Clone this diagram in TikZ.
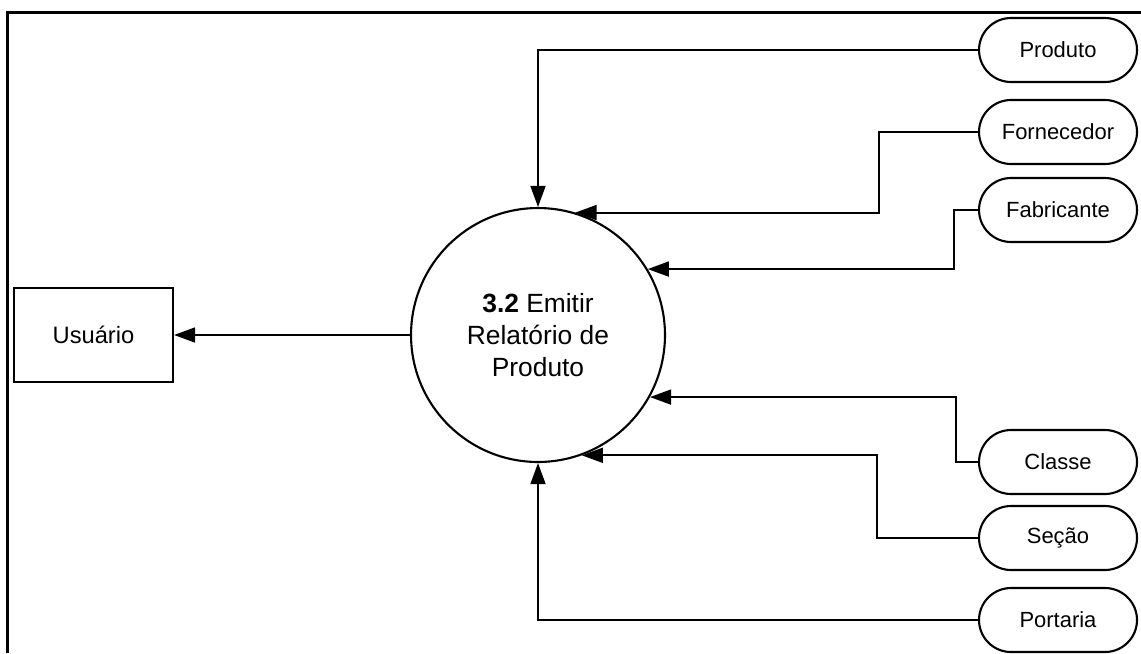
\documentclass[tikz,border=0pt]{standalone}
\usepackage{fontspec}
\setmainfont{Liberation Sans}
\usepackage{tikz}
\usetikzlibrary{arrows.meta}
\tikzset{
    entity-box/.style = {draw, line width=1.2pt, rectangle, minimum width=3.18cm, minimum height=1.88cm, font=\fontsize{13.5}{16}\selectfont},
    process-circle/.style = {draw, line width=1.2pt, circle, minimum size=5.08cm, inner sep=0pt, align=center, font=\fontsize{15}{18}\selectfont},
    store-pill/.style = {draw, line width=1.2pt, rectangle, rounded corners=0.64cm, minimum width=3.16cm, minimum height=1.28cm, font=\fontsize{12.5}{15}\selectfont},
    flow-arrow/.style = {-{Triangle[length=12pt, width=8.5pt]}, line width=1.1pt},
}

\begin{document}
\begin{tikzpicture}[x=0.02cm, y=-0.02cm]
\useasboundingbox (0,0) rectangle (1141,653);
% frame
\draw[line width=2pt] (7.5,653) -- (7.5,12.5) -- (1141,12.5);

\node [process-circle] (proc) at (538,335) {\textbf{3.2} Emitir\\Relatório de\\Produto};
\node [entity-box] (user) at (93.5,335) {Usuário};

\node [store-pill] (produto) at (1058,50) {Produto};
\node [store-pill] (fornecedor) at (1058,132) {Fornecedor};
\node [store-pill] (fabricante) at (1058,210) {Fabricante};
\node [store-pill] (classe) at (1058,462) {Classe};
\node [store-pill] (secao) at (1058,538) {Seção};
\node [store-pill] (portaria) at (1058,620) {Portaria};

\draw [flow-arrow] (proc.west) -- (user.east);
\draw [flow-arrow] (produto.west) -| (proc.north);
\draw [flow-arrow] (fornecedor.west) -- ++(-99,0) |- (proc.73.9);
\draw [flow-arrow] (fabricante.west) -- ++(-24,0) |- (proc.31.8);
\draw [flow-arrow] (classe.west) -- ++(-22,0) |- (proc.-29.2);
\draw [flow-arrow] (secao.west) -- ++(-101,0) |- (proc.-70.9);
\draw [flow-arrow] (portaria.west) -| (proc.south);
\end{tikzpicture}
\end{document}
